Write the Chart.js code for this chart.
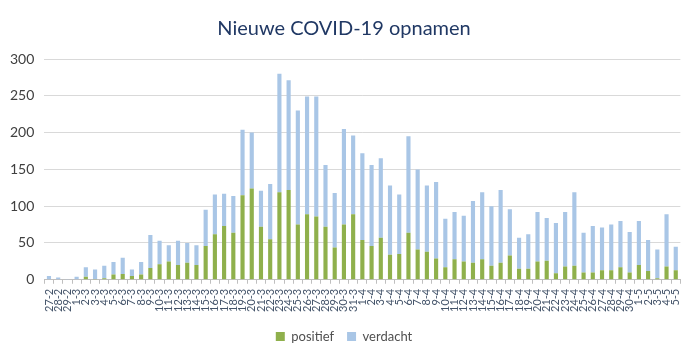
<!DOCTYPE html>
<html>
<head>
<meta charset="utf-8">
<script src="https://cdn.jsdelivr.net/npm/chart.js@4/dist/chart.umd.min.js"></script>
<style>
  html, body { margin: 0; padding: 0; background: #fff; }
  #wrap { width: 694px; height: 358px; }
</style>
</head>
<body>
<div id="wrap"><canvas id="chart" width="694" height="358"></canvas></div>
<script>
const dagen = [
  '27-2', '28-2', '29-2',
  '1-3', '2-3', '3-3', '4-3', '5-3', '6-3', '7-3', '8-3', '9-3', '10-3',
  '11-3', '12-3', '13-3', '14-3', '15-3', '16-3', '17-3', '18-3', '19-3', '20-3',
  '21-3', '22-3', '23-3', '24-3', '25-3', '26-3', '27-3', '28-3', '29-3', '30-3', '31-3',
  '1-4', '2-4', '3-4', '4-4', '5-4', '6-4', '7-4', '8-4', '9-4', '10-4',
  '11-4', '12-4', '13-4', '14-4', '15-4', '16-4', '17-4', '18-4', '19-4', '20-4',
  '21-4', '22-4', '23-4', '24-4', '25-4', '26-4', '27-4', '28-4', '29-4', '30-4',
  '1-5', '2-5', '3-5', '4-5', '5-5'
];

// groen deel (positief getest)
const positief = [
  0, 0, 0,
  0, 4, 1, 2, 7, 8, 5, 7, 16, 21,
  25, 20, 23, 20, 46, 62, 73, 64, 115, 124,
  72, 55, 119, 122, 75, 89, 86, 72, 44, 75, 89,
  54, 46, 57, 34, 35, 64, 41, 38, 29, 17,
  28, 25, 23, 28, 19, 23, 33, 15, 15, 25,
  26, 9, 18, 19, 10, 10, 13, 13, 17, 10,
  20, 12, 2, 18, 13
];

// totaal per dag (hoogte van de hele staaf)
const totaal = [
  5, 3, 1,
  4, 17, 14, 19, 24, 30, 14, 24, 61, 53,
  47, 53, 50, 47, 95, 116, 117, 114, 204, 200,
  121, 130, 280, 271, 230, 249, 249, 156, 118, 205, 196,
  172, 156, 165, 128, 116, 195, 150, 128, 133, 83,
  92, 87, 107, 119, 100, 122, 96, 57, 62, 92,
  84, 77, 92, 119, 64, 73, 71, 75, 80, 65,
  80, 54, 41, 89, 45
];

const verdacht = totaal.map((t, i) => t - positief[i]);

const ctx = document.getElementById('chart').getContext('2d');
new Chart(ctx, {
  type: 'bar',
  data: {
    labels: dagen,
    datasets: [
      {
        label: 'positief',
        data: positief,
        backgroundColor: '#8FB04C',
        barPercentage: 0.45,
        categoryPercentage: 1.0
      },
      {
        label: 'verdacht',
        data: verdacht,
        backgroundColor: '#A9C6E6',
        barPercentage: 0.45,
        categoryPercentage: 1.0
      }
    ]
  },
  options: {
    responsive: false,
    animation: false,
    layout: { padding: { left: 0, right: 6, top: 0, bottom: 5 } },
    plugins: {
      title: {
        display: true,
        text: 'Nieuwe COVID-19 opnamen',
        color: '#203864',
        font: { family: 'Lato', size: 20, weight: 'normal' },
        padding: { top: 17, bottom: 18 }
      },
      legend: {
        position: 'bottom',
        labels: {
          color: '#505050',
          font: { family: 'Lato', size: 13 },
          boxWidth: 9,
          boxHeight: 9,
          padding: 13
        }
      },
      tooltip: { enabled: false }
    },
    scales: {
      x: {
        stacked: true,
        grid: {
          display: true,
          drawOnChartArea: false,
          drawTicks: true,
          tickLength: 4,
          color: '#BFBFBF'
        },
        border: { color: '#BFBFBF' },
        ticks: {
          autoSkip: false,
          minRotation: 90,
          maxRotation: 90,
          color: '#44546A',
          font: { family: 'Lato', size: 11 },
          padding: 5
        }
      },
      y: {
        stacked: true,
        min: 0,
        max: 300,
        grid: { color: '#D9D9D9', drawTicks: false },
        border: { display: false },
        ticks: {
          stepSize: 50,
          color: '#404040',
          font: { family: 'Lato', size: 14 },
          padding: 10
        }
      }
    }
  }
});
</script>
</body>
</html>
